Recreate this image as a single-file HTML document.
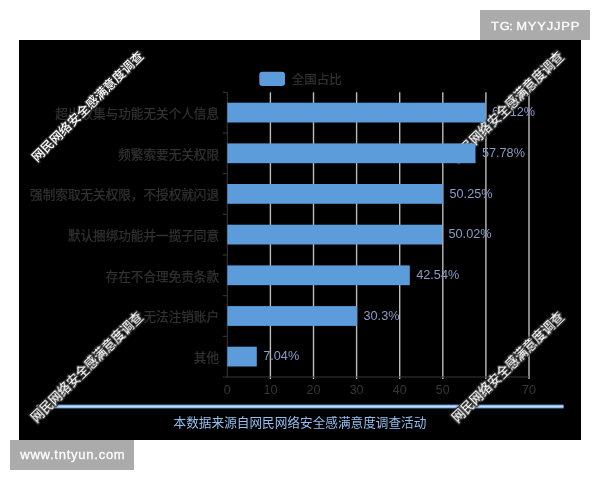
<!DOCTYPE html>
<html lang="zh"><head><meta charset="utf-8"><title>chart</title>
<style>
html,body{margin:0;padding:0;background:#fff;}
body{width:600px;height:480px;position:relative;overflow:hidden;font-family:"Liberation Sans","Noto Sans CJK SC",sans-serif;}
.cj{font-family:"Liberation Sans","Noto Sans CJK SC",sans-serif;}
.la{font-family:"Liberation Sans",sans-serif;}
.tag{position:absolute;background:#ababab;color:#fff;white-space:nowrap;}
#t1{left:480px;top:10px;width:110px;height:30px;}
#t2{left:10px;top:440px;width:124px;height:30px;}
.tag span{position:absolute;display:block;transform-origin:0 50%;-webkit-text-stroke:0.28px #fff;}
#t1 span{left:10.6px;top:9px;font-size:11.8px;line-height:15px;letter-spacing:0.75px;word-spacing:-1.5px;transform:scaleX(1.1);}
#t1 i{font-style:normal;margin-left:-1.6px;}
#t2 span{left:10.3px;top:7.1px;font-size:13px;line-height:15px;letter-spacing:0.75px;}
</style></head><body>
<svg width="600" height="480" viewBox="0 0 600 480" style="position:absolute;left:0;top:0">
<defs><filter id="b1" x="-5%" y="-5%" width="110%" height="110%"><feGaussianBlur stdDeviation="0.55"/></filter><filter id="b2" x="-5%" y="-100%" width="110%" height="300%"><feGaussianBlur stdDeviation="0.7"/></filter><filter id="b3" x="-10%" y="-10%" width="120%" height="120%"><feGaussianBlur stdDeviation="0.35"/></filter></defs>
<rect x="19" y="40" width="562" height="400" fill="#000"/>
<g filter="url(#b1)">
<rect x="226.8" y="92.3" width="1" height="284.7" fill="#383838"/>
<rect x="269.7" y="92.3" width="1.4" height="286.7" fill="#bcbcbc"/>
<rect x="312.8" y="92.3" width="1.4" height="286.7" fill="#bcbcbc"/>
<rect x="355.9" y="92.3" width="1.4" height="286.7" fill="#bcbcbc"/>
<rect x="399.0" y="92.3" width="1.4" height="286.7" fill="#bcbcbc"/>
<rect x="442.1" y="92.3" width="1.4" height="286.7" fill="#bcbcbc"/>
<rect x="485.2" y="92.3" width="1.4" height="286.7" fill="#bcbcbc"/>
<rect x="528.3" y="92.3" width="1.4" height="286.7" fill="#bcbcbc"/>
<rect x="222.8" y="376.5" width="306.2" height="1" fill="#3a3a3a"/>
<rect x="222.8" y="91.8" width="4.5" height="1" fill="#383838"/>
<rect x="222.8" y="132.5" width="4.5" height="1" fill="#383838"/>
<rect x="222.8" y="173.1" width="4.5" height="1" fill="#383838"/>
<rect x="222.8" y="213.8" width="4.5" height="1" fill="#383838"/>
<rect x="222.8" y="254.5" width="4.5" height="1" fill="#383838"/>
<rect x="222.8" y="295.2" width="4.5" height="1" fill="#383838"/>
<rect x="222.8" y="335.8" width="4.5" height="1" fill="#383838"/>
<text x="492.0" y="116.2" font-size="12.7" fill="#8a9cc6" class="la">60.12%</text>
<text x="481.9" y="156.9" font-size="12.7" fill="#8a9cc6" class="la">57.78%</text>
<text x="449.5" y="197.5" font-size="12.7" fill="#8a9cc6" class="la">50.25%</text>
<text x="448.5" y="238.2" font-size="12.7" fill="#8a9cc6" class="la">50.02%</text>
<text x="416.2" y="278.9" font-size="12.7" fill="#8a9cc6" class="la">42.54%</text>
<text x="363.5" y="319.6" font-size="12.7" fill="#8a9cc6" class="la">30.3%</text>
<text x="263.2" y="360.2" font-size="12.7" fill="#8a9cc6" class="la">7.04%</text>
<text x="219" y="117.8" font-size="12.6" fill="#323232" stroke="#323232" stroke-width="0.25" text-anchor="end" class="cj">超出收集与功能无关个人信息</text>
<text x="219" y="158.5" font-size="12.6" fill="#323232" stroke="#323232" stroke-width="0.25" text-anchor="end" class="cj">频繁索要无关权限</text>
<text x="219" y="199.1" font-size="12.6" fill="#323232" stroke="#323232" stroke-width="0.25" text-anchor="end" class="cj">强制索取无关权限，不授权就闪退</text>
<text x="219" y="239.8" font-size="12.6" fill="#323232" stroke="#323232" stroke-width="0.25" text-anchor="end" class="cj">默认捆绑功能并一揽子同意</text>
<text x="219" y="280.5" font-size="12.6" fill="#323232" stroke="#323232" stroke-width="0.25" text-anchor="end" class="cj">存在不合理免责条款</text>
<text x="219" y="321.1" font-size="12.6" fill="#323232" stroke="#323232" stroke-width="0.25" text-anchor="end" class="cj">无法注销账户</text>
<text x="219" y="361.8" font-size="12.6" fill="#323232" stroke="#323232" stroke-width="0.25" text-anchor="end" class="cj">其他</text>
<text x="227.3" y="394.4" font-size="12.5" fill="#363636" text-anchor="middle" class="la">0</text>
<text x="270.4" y="394.4" font-size="12.5" fill="#363636" text-anchor="middle" class="la">10</text>
<text x="313.5" y="394.4" font-size="12.5" fill="#363636" text-anchor="middle" class="la">20</text>
<text x="356.6" y="394.4" font-size="12.5" fill="#363636" text-anchor="middle" class="la">30</text>
<text x="399.7" y="394.4" font-size="12.5" fill="#363636" text-anchor="middle" class="la">40</text>
<text x="442.8" y="394.4" font-size="12.5" fill="#363636" text-anchor="middle" class="la">50</text>
<text x="485.9" y="394.4" font-size="12.5" fill="#363636" text-anchor="middle" class="la">60</text>
<text x="529.0" y="394.4" font-size="12.5" fill="#363636" text-anchor="middle" class="la">70</text>
<text x="300" y="427" font-size="12.65" fill="#94bff2" text-anchor="middle" class="cj">本数据来源自网民网络安全感满意度调查活动</text>
</g>
<g filter="url(#b2)"><rect x="36.5" y="404.6" width="527" height="3.8" fill="#6aa2e6"/><rect x="36.5" y="405.6" width="527" height="1.8" fill="#c4defa"/></g>
<g filter="url(#b3)">
<text transform="translate(87.6,106.6) rotate(-44.5)" x="0" y="4.4" font-size="12.55" fill="#fff" stroke="#303030" stroke-width="2.4" paint-order="stroke" text-anchor="middle" font-weight="500" class="cj wm">网民网络安全感满意度调查</text>
<text transform="translate(507.6,106.9) rotate(-44.5)" x="0" y="4.4" font-size="12.55" fill="#fff" stroke="#303030" stroke-width="2.4" paint-order="stroke" text-anchor="middle" font-weight="500" class="cj wm">网民网络安全感满意度调查</text>
<text transform="translate(86.8,367.2) rotate(-44.5)" x="0" y="4.4" font-size="12.55" fill="#fff" stroke="#303030" stroke-width="2.4" paint-order="stroke" text-anchor="middle" font-weight="500" class="cj wm">网民网络安全感满意度调查</text>
<text transform="translate(507.8,367.2) rotate(-44.5)" x="0" y="4.4" font-size="12.55" fill="#fff" stroke="#303030" stroke-width="2.4" paint-order="stroke" text-anchor="middle" font-weight="500" class="cj wm">网民网络安全感满意度调查</text>
</g>
<g filter="url(#b1)">
<rect x="227.3" y="102.7" width="258.3" height="19.8" fill="#5b9cdb"/>
<rect x="227.3" y="143.4" width="248.2" height="19.8" fill="#5b9cdb"/>
<rect x="227.3" y="184.0" width="215.8" height="19.8" fill="#5b9cdb"/>
<rect x="227.3" y="224.7" width="214.8" height="19.8" fill="#5b9cdb"/>
<rect x="227.3" y="265.4" width="182.5" height="19.8" fill="#5b9cdb"/>
<rect x="227.3" y="306.1" width="129.8" height="19.8" fill="#5b9cdb"/>
<rect x="227.3" y="346.7" width="29.5" height="19.8" fill="#5b9cdb"/>
<rect x="259.3" y="71.7" width="25.7" height="14.3" rx="3" fill="#5b9cdb"/>
<text x="291.7" y="83.6" font-size="12.5" fill="#323232" stroke="#323232" stroke-width="0.25" class="cj">全国占比</text>
</g>
</svg>
<div class="tag" id="t1"><span>TG<i>:</i> MYYJJPP</span></div>
<div class="tag" id="t2"><span>www.tntyun.com</span></div>
</body></html>
